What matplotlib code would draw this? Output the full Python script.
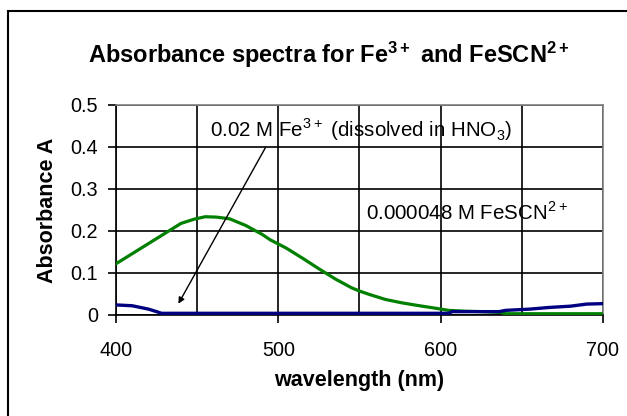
import matplotlib
matplotlib.use("Agg")
import matplotlib.pyplot as plt
from matplotlib.ticker import MultipleLocator
from matplotlib.patches import Rectangle

plt.rcParams['font.family'] = ['Liberation Sans', 'DejaVu Sans']
plt.rcParams['mathtext.fontset'] = 'custom'
plt.rcParams['mathtext.rm'] = 'Liberation Sans'
plt.rcParams['mathtext.bf'] = 'Liberation Sans:bold'

# FeSCN2+ spectrum (green)
wl_fescn = [400, 410, 420, 430, 440, 448, 455, 462, 470, 480, 490, 495, 500,
            505, 515, 525, 535, 545, 550, 556, 566, 576, 587, 597, 605, 615,
            625, 637, 640, 650, 660, 670, 680, 690, 700]
abs_fescn = [0.122, 0.146, 0.170, 0.194, 0.218, 0.228, 0.234, 0.233, 0.229,
             0.213, 0.192, 0.179, 0.169, 0.159, 0.135, 0.110, 0.086, 0.065,
             0.057, 0.049, 0.037, 0.029, 0.022, 0.016, 0.011, 0.009,
             0.008, 0.006, 0.003, 0.003, 0.003, 0.003, 0.003, 0.003, 0.003]

# Fe3+ spectrum (navy)
wl_fe = [400, 410, 415, 420, 425, 428, 450, 500, 550, 600, 605, 607, 620,
         636, 640, 655, 667, 680, 690, 700]
abs_fe = [0.024, 0.022, 0.018, 0.014, 0.008, 0.004, 0.004, 0.004, 0.004,
          0.004, 0.004, 0.008, 0.008, 0.008, 0.011, 0.014, 0.018, 0.021,
          0.026, 0.027]

fig = plt.figure(figsize=(6.27, 4.16), dpi=100)
ax = fig.add_axes([0.185, 0.2428, 0.7767, 0.5048])

ax.plot(wl_fescn, abs_fescn, color='#008000', lw=2.3, zorder=3)
ax.plot(wl_fe, abs_fe, color='#000080', lw=2.4, zorder=4)

ax.set_xlim(400, 700)
ax.set_ylim(0, 0.5)
ax.xaxis.set_major_locator(MultipleLocator(100))
ax.xaxis.set_minor_locator(MultipleLocator(50))
ax.set_yticks([0, 0.1, 0.2, 0.3, 0.4, 0.5])
ax.set_yticklabels(['0', '0.1', '0.2', '0.3', '0.4', '0.5'])
ax.grid(True, which='both', color='black', lw=1.2)
ax.tick_params(axis='x', which='major', direction='out', length=6, width=1.2,
               labelsize=14.3, pad=13)
ax.tick_params(axis='x', which='minor', length=0)
ax.tick_params(axis='y', direction='out', length=6, width=1.2,
               labelsize=14.3, pad=7)
for s in ['top', 'right']:
    ax.spines[s].set_color('#808080')
    ax.spines[s].set_linewidth(1.2)
for s in ['left', 'bottom']:
    ax.spines[s].set_linewidth(1.2)

ax.set_xlabel('wavelength (nm)', fontsize=15.5, fontweight='bold', labelpad=7)
ax.set_ylabel('Absorbance A', fontsize=15.5, fontweight='bold', labelpad=9)

fig.text(0.525, 0.868, r'Absorbance spectra for Fe$\mathbf{^{3+}}$ and FeSCN$\mathbf{^{2+}}$',
         ha='center', va='center', fontsize=17, fontweight='bold')

ax.annotate('', xy=(437.6, 0.021), xytext=(493, 0.405),
            arrowprops=dict(arrowstyle='-|>', color='black', lw=1,
                            mutation_scale=9), zorder=5)
ax.text(458, 0.44, r'0.02 M Fe$^{3+}$ (dissolved in HNO$_3$)', fontsize=14.8,
        va='center', ha='left', zorder=6)
ax.text(554, 0.243, r'0.000048 M FeSCN$^{2+}$', fontsize=14.8,
        va='center', ha='left', zorder=6)

# chart area border (right and bottom edges fall outside the picture)
fig.patches.append(Rectangle((8 / 627, -0.2), 1.5, 0.9736 + 0.2,
                             transform=fig.transFigure, fill=False,
                             edgecolor='black', lw=1.5))

fig.savefig('out.png', dpi=100)
